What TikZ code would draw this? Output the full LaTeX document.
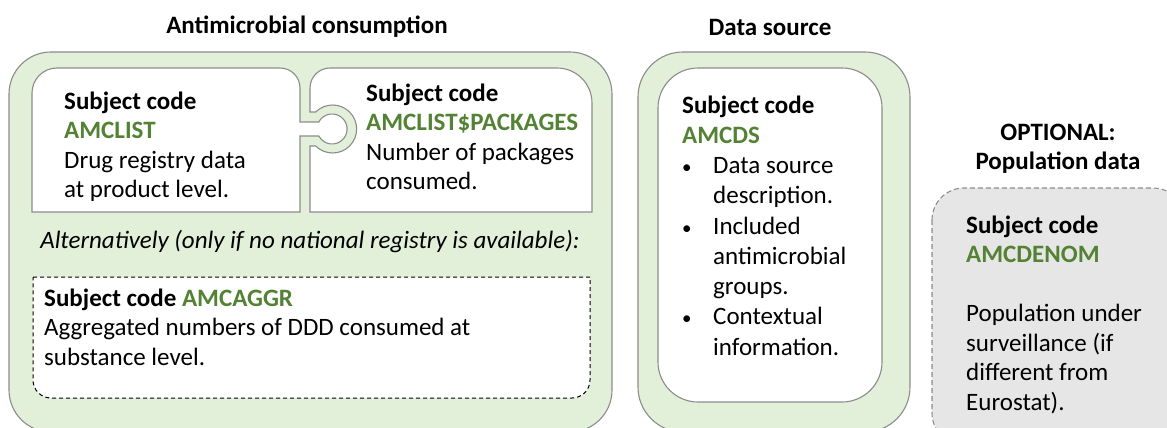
\documentclass[tikz,border=0pt]{standalone}
\usepackage{fontspec}
\setmainfont{Carlito}
\definecolor{greenfill}{HTML}{E2F0D9}
\definecolor{greentext}{HTML}{548235}
\definecolor{edgegray}{HTML}{8C8C8C}
\definecolor{grayfill}{HTML}{E7E6E6}
\tikzset{
  greenbox/.style={draw=edgegray, fill=greenfill, line width=1.1pt},
  whitebox/.style={draw=edgegray, fill=white, line width=1.1pt},
  dashbox/.style={draw=black, fill=white, line width=1pt, dash pattern=on 4pt off 3pt},
  graybox/.style={draw=edgegray, fill=grayfill, line width=1.1pt, dash pattern=on 5pt off 3pt},
  txt/.style={inner sep=0pt, anchor=base west, align=left, font=\fontsize{25}{29.5}\selectfont},
  ttl/.style={inner sep=0pt, anchor=base, align=center, font=\fontsize{25}{29.5}\selectfont\bfseries},
}
\newcommand{\code}[1]{\textcolor{greentext}{\bfseries #1}}
\newcommand{\bul}{\hspace*{0pt}\makebox[31pt][l]{\fontsize{19}{19}\selectfont •}}
\newcommand{\ind}{\hspace*{31pt}}
\begin{document}
\begin{tikzpicture}[x=1pt,y=-1pt]
\useasboundingbox (0,0) rectangle (1167,428);
\clip (0,0) rectangle (1167,428);
% Antimicrobial consumption
\path[greenbox, rounded corners=42pt] (9,52) rectangle (612,432);
% left puzzle piece with tab: centre (332,129), r=15, neck y 122..136
\path[whitebox] (32,212) -- (32,93) arc[start angle=180, end angle=270, radius=25]
  -- (280,68) arc[start angle=270, end angle=360, radius=20]
  -- (300,122) -- (318.8,122) arc[start angle=207.8, end angle=512.2, radius=15]
  -- (300,136) -- (300,212) -- cycle;
% right puzzle piece with socket: R=24, neck y 112..146
\path[whitebox] (310,212) -- (310,146) -- (315.7,146)
  arc[start angle=134.9, end angle=-134.9, radius=24]
  -- (310,112) -- (310,88) arc[start angle=180, end angle=270, radius=20]
  -- (557,68) arc[start angle=270, end angle=360, radius=35]
  -- (592,212) -- cycle;
\path[dashbox] (33,277) -- (590,277) -- (590,380) arc[start angle=0, end angle=90, radius=18]
  -- (51,398) arc[start angle=90, end angle=180, radius=18] -- cycle;
% Data source
\path[greenbox, rounded corners=45pt] (638,52) rectangle (910,432);
\path[whitebox, rounded corners=40pt] (658,68) rectangle (882,402);
% Optional
\path[graybox, rounded corners=32pt] (932,188) rectangle (1185,445);
% Titles (base = last line)
\node[ttl] (t1) at (307,34) {Antimicrobial consumption};
\node[ttl] (t2) at (770,36) {Data source};
\node[ttl] (t3) at (1058,169.5) {OPTIONAL:\\Population data};
% Texts (base = last line)
\node[txt] (amclist) at (64,197.5) {\textbf{Subject code}\\\code{AMCLIST}\\Drug registry data\\at product level.};
\node[txt] (amcpack) at (366,189.5) {\textbf{Subject code}\\\code{AMCLIST\$PACKAGES}\\Number of packages\\consumed.};
\node[txt, anchor=base] (alt) at (310,248) {\itshape Alternatively (only if no national registry is available):};
\node[txt] (amcaggr) at (44,365) {\textbf{Subject code} \code{AMCAGGR}\\Aggregated numbers of DDD consumed at\\substance level.};
\node[txt, font=\fontsize{25}{30.25}\selectfont] (amcds) at (682,355) {\textbf{Subject code}\\\code{AMCDS}\\\bul Data source\\\ind description.\\\bul Included\\\ind antimicrobial\\\ind groups.\\\bul Contextual\\\ind information.};
\node[txt] (amcdenom) at (966,410) {\textbf{Subject code}\\\code{AMCDENOM}\\[29.5pt]Population under\\surveillance (if\\different from\\Eurostat).};
\end{tikzpicture}
\end{document}
